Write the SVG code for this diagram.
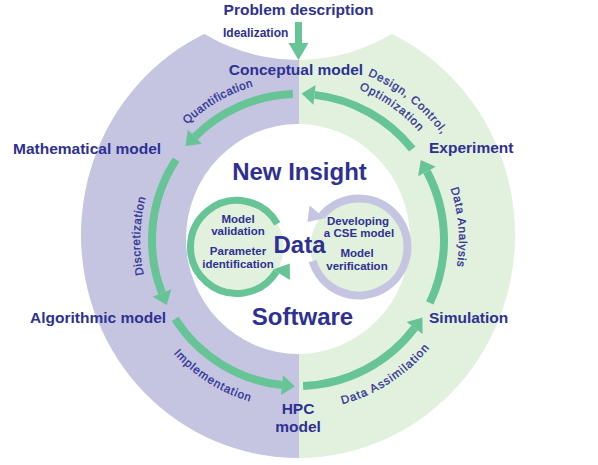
<svg xmlns="http://www.w3.org/2000/svg" width="598" height="465" viewBox="0 0 598 465">
<style>
text{font-family:"Liberation Sans",Arial,sans-serif;fill:#2e3192;}
.lbl{font-size:15.5px;font-weight:bold;}
.big{font-size:24px;font-weight:bold;}
.sm{font-size:11.5px;font-weight:bold;}
.id{font-size:12px;font-weight:bold;}
.arc{font-size:11.5px;stroke:#2e3192;stroke-width:0.3;}
.arr{fill:none;stroke:#66c496;stroke-width:8;marker-end:url(#head);}
</style>
<defs>
<clipPath id="leftHalf"><rect x="0" y="0" width="299" height="465"/></clipPath>
<clipPath id="rightHalf"><rect x="299" y="0" width="299" height="465"/></clipPath>
<marker id="head" markerUnits="userSpaceOnUse" markerWidth="14" markerHeight="20" refX="0" refY="10" orient="auto" overflow="visible">
<path d="M0,0 L13,10 L0,20 Z" fill="#66c496"/>
</marker>
<marker id="headS" markerUnits="userSpaceOnUse" markerWidth="14" markerHeight="20" refX="0" refY="0" orient="auto" overflow="visible">
<path d="M0,-4 L14,7 L0,16 Z" fill="#66c496"/>
</marker>
<marker id="headP" markerUnits="userSpaceOnUse" markerWidth="14" markerHeight="20" refX="0" refY="0" orient="auto" overflow="visible">
<path d="M0,-4 L14,7 L0,16 Z" fill="#c5c5e2"/>
</marker>
<path id="pQuant" d="M159.4,160 A160,160 0 0 1 298,80"/>
<path id="pDisc" d="M159.1,315.4 A158,158 0 0 1 163.3,157.4"/>
<path id="pAnal" d="M430.7,148.8 A161,161 0 0 1 443.3,309.3"/>
<path id="pImpl" d="M149.2,319.1 A168.5,168.5 0 0 0 292.1,408.4"/>
<path id="pAssim" d="M306.9,409.8 A170,170 0 0 0 449.5,317.2"/>
<path id="pDesign" d="M367.7,75.7 A178.5,178.5 0 0 1 465.7,179"/>
<path id="pOptim" d="M358.9,89.3 A162.5,162.5 0 0 1 450.7,184.4"/>
</defs>

<g id="ring">
<ellipse cx="298" cy="235" rx="217" ry="223" fill="#c5c5e2" clip-path="url(#leftHalf)"/>
<ellipse cx="298" cy="235" rx="217" ry="223" fill="#e2f0de" clip-path="url(#rightHalf)"/>
<circle cx="298" cy="-120" r="180" fill="#ffffff"/>
<ellipse cx="298" cy="239" rx="112" ry="115" fill="#ffffff"/>
</g>

<g id="connectors">
<path d="M295,22 L302,22 L302,43 L308.5,43 L298.5,60 L288.5,43 L295,43 Z" fill="#66c496"/>
<path class="arr" d="M412.3,149.1 A146,146 0 0 0 314.5,94.9"/>
<path class="arr" d="M292.9,94.1 A146,146 0 0 0 194.8,136.8"/>
<path class="arr" d="M176.1,159.6 A146,146 0 0 0 162,293"/>
<path class="arr" d="M175.1,318.9 A146,146 0 0 0 282,385.1"/>
<path class="arr" d="M303.1,385.9 A146,146 0 0 0 414.6,327.9"/>
<path class="arr" d="M429.8,302.9 A146,146 0 0 0 426.9,171.5"/>
</g>

<g id="data-left">
<circle cx="237" cy="247" r="46.5" fill="#e2f0de"/>
<path d="M277.3,223.8 A46.5,46.5 0 1 0 276.4,271.6" fill="none" stroke="#66c496" stroke-width="7" marker-end="url(#headS)"/>
<text class="sm" x="238" y="222.5" text-anchor="middle">Model</text>
<text class="sm" x="238" y="235" text-anchor="middle">validation</text>
<text class="sm" x="238" y="255" text-anchor="middle">Parameter</text>
<text class="sm" x="238" y="267.5" text-anchor="middle">identification</text>
</g>

<g id="data-right">
<circle cx="359" cy="247" r="48.5" fill="#e2f0de"/>
<path d="M312.6,261.2 A48.5,48.5 0 1 0 321.85,215.8" fill="none" stroke="#c5c5e2" stroke-width="8" marker-end="url(#headP)"/>
<text class="sm" x="358" y="224.5" text-anchor="middle">Developing</text>
<text class="sm" x="359" y="237" text-anchor="middle">a CSE model</text>
<text class="sm" x="357" y="257" text-anchor="middle">Model</text>
<text class="sm" x="357" y="269.5" text-anchor="middle">verification</text>
</g>

<g id="problem"><text class="lbl" x="298.5" y="15" text-anchor="middle">Problem description</text></g>
<g id="idealization"><text class="id" x="223" y="37">Idealization</text></g>
<g id="conceptual"><text class="lbl" x="296" y="75" text-anchor="middle">Conceptual model</text></g>
<g id="mathematical"><text class="lbl" x="13" y="154">Mathematical model</text></g>
<g id="experiment"><text class="lbl" x="429" y="153">Experiment</text></g>
<g id="algorithmic"><text class="lbl" x="30" y="323">Algorithmic model</text></g>
<g id="simulation"><text class="lbl" x="429" y="323">Simulation</text></g>
<g id="hpc"><text class="lbl" x="298" y="414" text-anchor="middle">HPC</text><text class="lbl" x="298" y="432" text-anchor="middle">model</text></g>
<g id="center">
<text class="big" x="299.5" y="180" text-anchor="middle">New Insight</text>
<text class="big" x="299.5" y="253" text-anchor="middle">Data</text>
<text class="big" x="302.5" y="325" text-anchor="middle">Software</text>
</g>

<g id="arc-labels">
<text class="arc" letter-spacing="0.5"><textPath href="#pQuant" startOffset="50%" text-anchor="middle">Quantification</textPath></text>
<text class="arc" letter-spacing="0.65"><textPath href="#pDisc" startOffset="50%" text-anchor="middle">Discretization</textPath></text>
<text class="arc" letter-spacing="0.75"><textPath href="#pAnal" startOffset="50%" text-anchor="middle">Data Analysis</textPath></text>
<text class="arc" letter-spacing="0.95"><textPath href="#pImpl" startOffset="50%" text-anchor="middle">Implementation</textPath></text>
<text class="arc" letter-spacing="1.05"><textPath href="#pAssim" startOffset="50%" text-anchor="middle">Data Assimilation</textPath></text>
<text class="arc" letter-spacing="0.85"><textPath href="#pDesign">Design, Control,</textPath></text>
<text class="arc" letter-spacing="0.9"><textPath href="#pOptim">Optimization</textPath></text>
</g>
</svg>
